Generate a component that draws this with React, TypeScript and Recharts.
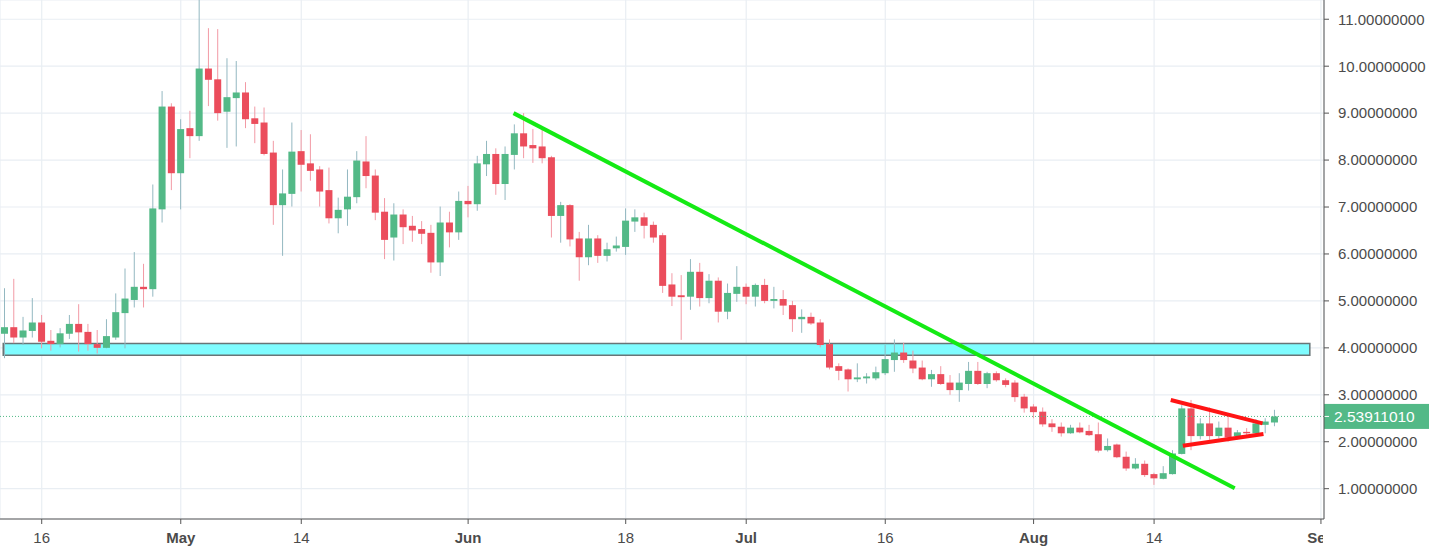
import React from "react";
import {
  ComposedChart,
  Bar,
  XAxis,
  YAxis,
  CartesianGrid,
  ReferenceArea,
  ReferenceLine,
} from "recharts";

// day 0 = Apr 16, first candle is Apr 12
const firstDay = -4;

const opens = [
  4.3, 4.44, 4.22, 4.36, 4.54, 4.15, 4.08, 4.3, 4.51, 4.34, 4.08, 4.0, 4.22, 4.74, 5.02, 5.3, 5.25,
  6.95, 9.14, 7.72, 8.68, 8.51, 9.95, 9.72, 9.03, 9.32, 9.44, 8.89, 8.8, 8.16, 7.04, 7.28, 8.19,
  7.93, 7.8, 7.36, 6.76, 6.95, 7.21, 7.97, 7.67, 6.9, 6.35, 6.84, 6.6, 6.53, 6.45, 5.82, 6.67,
  6.46, 7.13, 7.06, 7.91, 8.13, 7.49, 8.11, 8.57, 8.32, 8.29, 8.06, 6.81, 7.04, 6.33, 5.93, 6.33,
  5.96, 6.12, 6.15, 6.69, 6.78, 6.62, 6.4, 5.35, 5.12, 5.09, 5.62, 5.06, 5.43, 4.77, 5.15, 5.3,
  5.09, 5.34, 5.0, 5.04, 4.91, 4.61, 4.66, 4.54, 4.08, 3.61, 3.54, 3.33, 3.35, 3.35, 3.46, 3.74,
  3.9, 3.73, 3.58, 3.33, 3.44, 3.26, 3.1, 3.23, 3.51, 3.23, 3.46, 3.31, 3.26, 2.96, 2.75, 2.64,
  2.39, 2.32, 2.18, 2.3, 2.23, 2.16, 1.82, 1.94, 1.68, 1.43, 1.53, 1.31, 1.21, 1.31, 1.74, 2.71,
  2.12, 2.39, 2.12, 2.3, 2.12, 2.21, 2.18, 2.36, 2.41,
];
const highs = [
  5.27, 5.47, 4.66, 5.06, 4.7, 4.38, 4.42, 4.7, 4.93, 4.51, 4.38, 4.61, 5.16, 5.69, 6.04, 5.79, 7.48,
  9.47, 9.21, 8.87, 9.05, 11.6, 10.81, 10.79, 10.17, 10.11, 9.66, 9.14, 9.12, 8.41, 7.8, 8.8, 8.64,
  8.55, 7.87, 7.84, 7.2, 7.8, 8.19, 8.51, 7.8, 7.19, 7.08, 6.95, 6.81, 6.7, 6.62, 7.01, 6.9,
  7.33, 7.45, 8.09, 8.41, 8.25, 8.29, 8.76, 9.0, 8.66, 8.64, 8.09, 7.11, 7.06, 6.47, 6.62, 6.4,
  6.24, 6.37, 6.97, 6.95, 6.88, 6.69, 6.45, 5.59, 5.55, 5.89, 5.81, 5.57, 5.5, 5.37, 5.74, 5.37,
  5.37, 5.47, 5.3, 5.23, 5.0, 4.82, 4.75, 4.61, 4.18, 3.67, 3.56, 3.67, 3.46, 3.6, 4.06, 4.18,
  4.11, 3.94, 3.73, 3.53, 3.61, 3.42, 3.46, 3.7, 3.7, 3.49, 3.5, 3.35, 3.31, 3.02, 2.8, 2.73,
  2.48, 2.41, 2.36, 2.41, 2.36, 2.41, 2.07, 1.96, 1.79, 1.65, 1.6, 1.34, 1.48, 1.82, 2.78, 2.89,
  2.5, 2.73, 2.43, 2.55, 2.25, 2.29, 2.48, 2.5, 2.68,
];
const lows = [
  3.78, 4.1, 4.06, 4.22, 3.99, 3.94, 4.01, 4.19, 3.92, 3.94, 3.88, 3.99, 4.17, 3.99, 4.86, 4.86, 5.09,
  6.67, 7.36, 6.95, 8.04, 8.41, 9.15, 8.84, 8.26, 8.29, 8.68, 8.36, 8.1, 6.62, 5.96, 7.01, 7.33,
  7.56, 7.01, 6.65, 6.44, 6.6, 7.08, 7.4, 6.72, 5.89, 5.86, 6.21, 6.26, 6.21, 5.6, 5.53, 6.14,
  6.3, 6.78, 6.92, 7.66, 7.26, 7.15, 7.8, 8.04, 7.94, 7.93, 6.35, 6.24, 6.16, 5.43, 5.76, 5.81,
  5.84, 6.05, 5.98, 6.47, 6.33, 6.24, 5.17, 4.89, 4.17, 4.81, 4.88, 4.95, 4.54, 4.61, 4.98, 4.93,
  4.88, 4.95, 4.84, 4.7, 4.34, 4.32, 4.49, 4.01, 3.54, 3.31, 3.07, 3.27, 3.24, 3.31, 3.42, 3.49,
  3.68, 3.46, 3.31, 3.17, 3.21, 3.0, 2.85, 3.09, 3.21, 3.14, 3.28, 3.16, 2.85, 2.62, 2.5, 2.32,
  2.21, 2.11, 2.17, 2.18, 2.12, 1.77, 1.79, 1.65, 1.38, 1.41, 1.25, 1.08, 1.2, 1.3, 1.73, 1.82,
  2.05, 2.04, 2.07, 2.0, 2.05, 2.14, 2.14, 2.18, 2.33,
];
const closes = [
  4.44, 4.22, 4.37, 4.54, 4.13, 4.08, 4.31, 4.51, 4.33, 4.08, 4.0, 4.25, 4.76, 5.05, 5.3, 5.25, 6.97,
  9.14, 7.72, 8.66, 8.51, 9.95, 9.71, 9.0, 9.34, 9.44, 8.87, 8.77, 8.13, 7.04, 7.29, 8.18, 7.9,
  7.77, 7.33, 6.76, 6.94, 7.22, 7.99, 7.66, 6.88, 6.3, 6.84, 6.57, 6.5, 6.43, 5.82, 6.67, 6.46,
  7.13, 7.06, 7.93, 8.13, 7.49, 8.13, 8.57, 8.29, 8.25, 8.04, 6.81, 7.04, 6.31, 5.93, 6.33, 5.96,
  6.1, 6.18, 6.71, 6.78, 6.6, 6.35, 5.32, 5.09, 5.08, 5.62, 5.06, 5.43, 4.77, 5.17, 5.3, 5.09,
  5.34, 5.0, 5.04, 4.9, 4.61, 4.66, 4.52, 4.06, 3.58, 3.51, 3.33, 3.37, 3.39, 3.48, 3.76, 3.9,
  3.74, 3.56, 3.33, 3.44, 3.23, 3.1, 3.26, 3.51, 3.23, 3.46, 3.31, 3.21, 2.95, 2.71, 2.63, 2.37,
  2.31, 2.18, 2.3, 2.2, 2.14, 1.81, 1.91, 1.67, 1.43, 1.53, 1.29, 1.22, 1.33, 1.75, 2.71, 2.12,
  2.39, 2.12, 2.3, 2.09, 2.2, 2.18, 2.39, 2.43, 2.539,
];

const tickDays = [0, 15, 28, 46, 63, 76, 91, 107, 120, 138];
const tickLabels = ["16", "May", "14", "Jun", "18", "Jul", "16", "Aug", "14", "Sep"];
const priceTicks = [1, 2, 3, 4, 5, 6, 7, 8, 9, 10, 11];

const lastPrice = 2.5391101;

// drawn annotations, in [day, price]
const zoneDays = [-4.15, 136.8];
const zonePrices = [3.84, 4.09];
const trendLine = [[50.9, 9.0], [128.7, 1.01]];
const pennantTop = [[121.8, 2.89], [131.7, 2.39]];
const pennantBottom = [[123.1, 1.915], [131.8, 2.165]];

const upColor = "#53B987";
const downColor = "#EB4D5C";
const upWick = "#93B8C1";
const downWick = "#F29AA5";
const textColor = "#4B4B4B";
const font = "'Liberation Sans', Arial, sans-serif";

const data = opens.map((open, i) => ({
  day: firstDay + i,
  open,
  high: highs[i],
  low: lows[i],
  close: closes[i],
  range: [lows[i], highs[i]],
}));

const Candle = (props: any) => {
  const { x, y, width, height, payload } = props;
  const { open, close, high, low } = payload;
  const up = close >= open;
  const ratio = height / (high - low || 1);
  const yOf = (v: number) => y + (high - v) * ratio;
  const top = yOf(Math.max(open, close));
  const bot = yOf(Math.min(open, close));
  const cx = x + width / 2;
  return (
    <g>
      <line x1={cx} x2={cx} y1={y} y2={y + height} stroke={up ? upWick : downWick} strokeWidth={1} />
      <rect x={x} y={top} width={width} height={Math.max(1, bot - top)} fill={up ? upColor : downColor} />
    </g>
  );
};

const DateTick = (props: any) => {
  const { x, y, payload, index } = props;
  const i = tickDays.indexOf(payload.value);
  const label = tickLabels[i] ?? "";
  const isMonth = isNaN(Number(label));
  const id = `xclip${index}`;
  return (
    <g>
      <defs>
        <clipPath id={id}>
          <rect x={0} y={0} width={1323} height={550} />
        </clipPath>
      </defs>
      <text
        x={x}
        y={y + 17}
        textAnchor="middle"
        fill={textColor}
        fontSize={15}
        fontFamily={font}
        fontWeight={isMonth ? 700 : 400}
        clipPath={`url(#${id})`}
      >
        {label}
      </text>
    </g>
  );
};

const PriceTag = (props: any) => {
  const { viewBox } = props;
  const x = viewBox.x + viewBox.width;
  const y = viewBox.y;
  return (
    <g>
      <rect x={x} y={y - 12.5} width={105} height={25} fill={upColor} />
      <line x1={x} x2={x + 5} y1={y} y2={y} stroke="#ffffff" strokeWidth={1} />
      <text x={x + 10} y={y + 5.5} fill="#ffffff" fontSize={15.5} fontFamily={font} fontWeight={500}>
        {lastPrice.toFixed(8)}
      </text>
    </g>
  );
};

export default function App() {
  return (
    <div style={{ position: "absolute", left: 0, top: 0, width: 1429, height: 550, background: "#fff" }}>
      <ComposedChart width={1429} height={550} data={data} margin={{ top: 0, right: 0, bottom: 0, left: 0 }}>
        <CartesianGrid stroke="#E9EEF3" strokeWidth={1.2} />
        <XAxis
          dataKey="day"
          type="number"
          domain={[-4.5, 138.33]}
          allowDataOverflow
          ticks={tickDays}
          tick={<DateTick />}
          height={31}
          tickSize={5}
          stroke="#555"
          interval={0}
        />
        <YAxis
          orientation="right"
          type="number"
          domain={[0.354, 11.41]}
          allowDataOverflow
          ticks={priceTicks}
          tickFormatter={(v: number) => v.toFixed(8)}
          width={105}
          tickSize={5}
          tickMargin={9}
          stroke="#555"
          tick={{ fill: textColor, fontSize: 15, fontFamily: font }}
          interval={0}
        />
        <ReferenceArea
          x1={zoneDays[0]}
          x2={zoneDays[1]}
          y1={zonePrices[0]}
          y2={zonePrices[1]}
          fill="#7FFCFF"
          fillOpacity={1}
          stroke="#687577"
          strokeWidth={1.5}
        />
        <ReferenceLine y={lastPrice} stroke={upColor} strokeDasharray="1 2" label={PriceTag} />
        <Bar dataKey="range" barSize={7} shape={<Candle />} isAnimationActive={false} />
        <ReferenceLine
          segment={[
            { x: trendLine[0][0], y: trendLine[0][1] },
            { x: trendLine[1][0], y: trendLine[1][1] },
          ]}
          stroke="#14EA14"
          strokeWidth={4}
        />
        <ReferenceLine
          segment={[
            { x: pennantTop[0][0], y: pennantTop[0][1] },
            { x: pennantTop[1][0], y: pennantTop[1][1] },
          ]}
          stroke="#FF1414"
          strokeWidth={4}
        />
        <ReferenceLine
          segment={[
            { x: pennantBottom[0][0], y: pennantBottom[0][1] },
            { x: pennantBottom[1][0], y: pennantBottom[1][1] },
          ]}
          stroke="#FF1414"
          strokeWidth={4}
        />
      </ComposedChart>
    </div>
  );
}
